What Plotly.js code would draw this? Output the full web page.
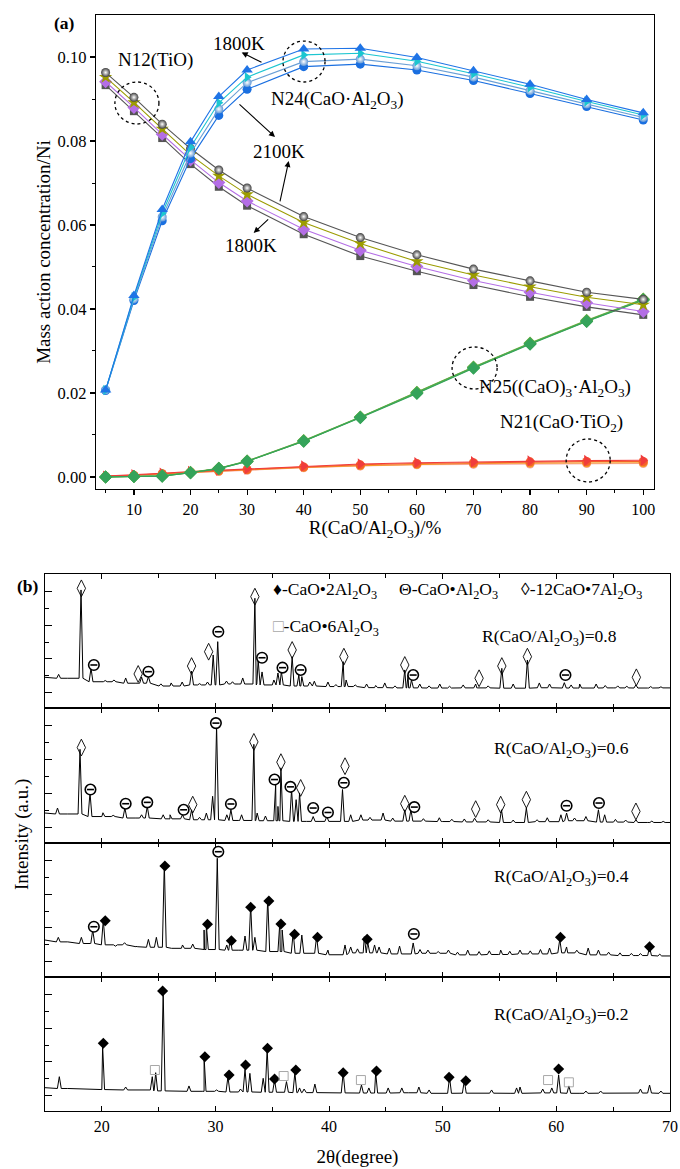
<!DOCTYPE html>
<html><head><meta charset="utf-8">
<script src="https://cdn.plot.ly/plotly-3.0.1.min.js"></script>
<style>html,body{margin:0;padding:0;background:#fff}#chart{width:680px;height:1169px}</style>
</head><body><div id="chart"></div>
<script>
// ---------- Panel (a) data ----------
const ratio = [5,10,15,20,25,30,40,50,60,70,80,90,100];
const temps = ['1800K','1900K','2000K','2100K'];
// N12 (TiO)
const n12_1800 = [0.0933,0.0871,0.0807,0.0745,0.0691,0.0646,0.0578,0.0526,0.0490,0.0457,0.0429,0.0405,0.0386];
const n12_1900 = [0.0941,0.0880,0.0816,0.0755,0.0701,0.0657,0.0590,0.0540,0.0501,0.0468,0.0440,0.0415,0.0394];
const n12_2000 = [0.0952,0.0892,0.0829,0.0767,0.0717,0.0673,0.0606,0.0556,0.0513,0.0481,0.0453,0.0428,0.0410];
const n12_2100 = [0.0963,0.0904,0.0840,0.0782,0.0731,0.0688,0.0620,0.0570,0.0529,0.0495,0.0467,0.0440,0.0423];
// N24 (CaO·Al2O3)
const n24_1800 = [0.0207,0.0432,0.0637,0.0798,0.0906,0.0969,0.1019,0.1021,0.0999,0.0967,0.0935,0.0899,0.0867];
const n24_1900 = [0.0207,0.0428,0.0628,0.0785,0.0891,0.0952,0.1005,0.1009,0.0990,0.0960,0.0928,0.0894,0.0862];
const n24_2000 = [0.0207,0.0424,0.0619,0.0771,0.0876,0.0939,0.0989,0.0995,0.0979,0.0952,0.0920,0.0888,0.0856];
const n24_2100 = [0.0206,0.0420,0.0610,0.0758,0.0861,0.0923,0.0977,0.0983,0.0969,0.0944,0.0913,0.0882,0.0850];
// N25 ((CaO)3·Al2O3)
const n25_1800 = [0.0000,0.0001,0.0002,0.0010,0.0020,0.0037,0.0085,0.0141,0.0199,0.0259,0.0316,0.0370,0.0421];
const n25_1900 = [0.0000,0.0001,0.0002,0.0010,0.0020,0.0037,0.0085,0.0142,0.0200,0.0260,0.0317,0.0371,0.0422];
const n25_2000 = [0.0000,0.0001,0.0003,0.0010,0.0021,0.0038,0.0086,0.0142,0.0201,0.0261,0.0318,0.0372,0.0423];
const n25_2100 = [0.0000,0.0001,0.0003,0.0011,0.0021,0.0038,0.0087,0.0143,0.0202,0.0262,0.0319,0.0373,0.0424];
// N21 (CaO·TiO2)
const n21_1800 = [0.0002,0.0005,0.0009,0.0013,0.0016,0.0019,0.0026,0.0031,0.0034,0.0036,0.0038,0.0039,0.0040];
const n21_1900 = [0.0002,0.0004,0.0008,0.0012,0.0015,0.0018,0.0024,0.0029,0.0032,0.0034,0.0036,0.0037,0.0037];
const n21_2000 = [0.0001,0.0004,0.0007,0.0011,0.0014,0.0017,0.0023,0.0027,0.0030,0.0032,0.0033,0.0034,0.0034];
const n21_2100 = [0.0001,0.0003,0.0007,0.0010,0.0013,0.0016,0.0022,0.0026,0.0029,0.0030,0.0031,0.0032,0.0032];

// ---------- Panel (b) XRD data ----------
// R = 0.8
const r08_baseX = [15,17,20,23,26,29,32,35,38,41,44,47,50,53,56,59,62,65,68,70];
const r08_baseY = [0.229,0.222,0.196,0.185,0.164,0.172,0.179,0.172,0.164,0.160,0.152,0.150,0.149,0.150,0.148,0.151,0.149,0.150,0.149,0.150];
const r08_peakX = [16.2,18.17,19.05,20.3,21.07,22.1,23.5,24.1,25.2,26.1,27.07,27.9,28.6,29.3,29.8,30.2,30.97,31.5,32.4,33.47,33.76,34.1,35.14,35.5,35.8,36.75,37.34,37.6,38.3,38.7,39.9,40.6,41.24,41.5,42.3,43.3,44.1,44.9,45.8,46.66,46.95,47.25,47.98,48.8,49.74,50.6,51.8,52.9,54.0,55.2,56.2,57.45,58.5,59.4,60.7,61.3,62.05,63.5,64.3,65.4,66.2,67.0,68.3,69.2];
const r08_peakY = [0.251,0.881,0.296,0.205,0.209,0.224,0.231,0.234,0.180,0.187,0.194,0.276,0.182,0.194,0.396,0.495,0.201,0.196,0.224,0.819,0.358,0.269,0.209,0.261,0.271,0.383,0.246,0.234,0.194,0.200,0.194,0.175,0.346,0.209,0.172,0.179,0.168,0.187,0.165,0.284,0.246,0.209,0.179,0.165,0.179,0.162,0.172,0.179,0.165,0.296,0.179,0.358,0.187,0.179,0.189,0.172,0.179,0.179,0.168,0.165,0.162,0.172,0.160,0.158];
const r08_c12a7X = [18.2,23.2,27.9,29.4,33.47,36.75,41.3,46.66,53.2,55.2,57.45,67.04];
const r08_c12a7Y = [0.893,0.254,0.313,0.420,0.831,0.433,0.383,0.321,0.222,0.313,0.383,0.229];
const r08_caX = [19.3,24.1,30.25,34.1,35.9,37.5,47.4,60.8];
const r08_caY = [0.321,0.271,0.569,0.375,0.301,0.284,0.246,0.246];
// R = 0.6
const r06_baseX = [15,17,20,23,26,29,32,35,38,41,44,47,50,53,56,59,62,65,68,70];
const r06_baseY = [0.222,0.215,0.196,0.185,0.179,0.172,0.167,0.165,0.160,0.160,0.170,0.162,0.159,0.156,0.152,0.158,0.165,0.155,0.152,0.152];
const r06_peakX = [16.1,18.08,18.96,20.1,21.0,22.03,23.5,24.0,25.4,26.0,27.1,27.9,28.6,29.2,29.75,30.1,31.0,31.36,32.3,33.38,33.67,34.4,35.3,35.5,35.76,36.7,37.1,37.4,38.6,39.8,41.18,41.9,42.8,43.6,44.75,45.6,46.66,47.2,48.3,49.7,50.8,51.9,52.8,54.0,55.17,56.2,57.36,58.3,59.2,60.4,60.9,61.6,62.6,63.7,64.25,65.2,66.1,67.0,68.4,69.4];
const r06_peakY = [0.259,0.694,0.372,0.224,0.205,0.259,0.209,0.271,0.209,0.209,0.209,0.246,0.190,0.222,0.346,0.868,0.209,0.246,0.209,0.731,0.222,0.200,0.433,0.271,0.557,0.396,0.321,0.371,0.196,0.196,0.396,0.209,0.209,0.190,0.222,0.185,0.246,0.246,0.180,0.187,0.176,0.178,0.184,0.172,0.246,0.170,0.259,0.172,0.187,0.209,0.222,0.185,0.196,0.246,0.209,0.175,0.170,0.172,0.162,0.160];
const r06_c12a7X = [18.2,28.0,33.38,35.76,37.5,41.4,46.66,52.9,55.1,57.36,67.0];
const r06_c12a7Y = [0.707,0.284,0.749,0.599,0.408,0.569,0.291,0.251,0.284,0.321,0.234];
const r06_caX = [19.0,22.1,24.0,27.2,30.04,31.36,35.2,36.6,38.6,39.9,41.3,47.5,60.9,63.75];
const r06_caY = [0.396,0.291,0.301,0.246,0.888,0.289,0.470,0.416,0.259,0.226,0.446,0.266,0.276,0.296];
// R = 0.4
const r04_baseX = [15,17,19,21,23,25,27,29,32,35,38,40,43,46,49,52,55,58,61,64,67,70];
const r04_baseY = [0.276,0.262,0.250,0.240,0.226,0.222,0.214,0.205,0.200,0.190,0.177,0.166,0.180,0.172,0.177,0.165,0.168,0.172,0.180,0.165,0.160,0.157];
const r04_peakX = [16.17,18.2,19.2,20.13,21.2,22.0,23.0,24.1,24.8,25.5,26.3,27.1,28.0,29.0,29.2,30.16,31.0,31.3,32.6,33.1,33.47,34.6,35.67,35.87,36.84,37.6,38.9,39.9,41.4,41.9,42.5,43.1,43.4,44.0,44.4,45.3,46.2,47.4,48.0,48.7,49.6,50.5,51.3,52.2,53.2,54.1,55.1,55.9,56.8,57.7,58.6,59.4,60.3,60.9,61.8,62.8,63.7,64.6,65.6,66.6,67.4,68.2,69.1];
const r04_peakY = [0.296,0.296,0.351,0.425,0.230,0.256,0.228,0.281,0.296,0.849,0.215,0.239,0.246,0.351,0.388,0.886,0.239,0.289,0.306,0.537,0.296,0.587,0.413,0.351,0.331,0.313,0.301,0.201,0.239,0.224,0.210,0.301,0.261,0.239,0.224,0.216,0.231,0.254,0.205,0.201,0.190,0.201,0.185,0.201,0.190,0.195,0.201,0.192,0.201,0.195,0.205,0.216,0.281,0.224,0.200,0.216,0.201,0.185,0.180,0.176,0.175,0.222,0.170];
const r04_caX = [19.3,30.25,47.46];
const r04_caY = [0.375,0.935,0.321];
const r04_ca2X = [20.3,25.55,29.3,31.4,33.1,34.7,35.76,36.96,38.98,43.35,60.36,68.2];
const r04_ca2Y = [0.420,0.828,0.393,0.271,0.520,0.567,0.396,0.319,0.296,0.281,0.296,0.226];
// R = 0.2
const r02_baseX = [15,17,20,23,26,29,32,35,38,41,44,47,50,53,56,59,62,65,68,70];
const r02_baseY = [0.174,0.168,0.160,0.157,0.150,0.147,0.142,0.140,0.137,0.135,0.134,0.136,0.132,0.133,0.132,0.135,0.132,0.133,0.134,0.132];
const r02_peakX = [16.26,20.07,22.1,24.44,24.74,25.4,27.67,29.0,30.1,31.1,32.2,32.6,33.03,34.2,34.55,35.2,36.25,36.99,37.4,37.8,38.75,41.24,42.85,43.5,44.1,45.2,46.4,47.9,48.8,50.6,51.9,54.3,56.5,56.8,58.8,59.6,60.2,61.1,62.6,63.9,67.4,68.2,69.2];
const r02_peakY = [0.256,0.485,0.179,0.256,0.286,0.890,0.187,0.401,0.157,0.256,0.164,0.311,0.281,0.244,0.460,0.231,0.219,0.286,0.172,0.164,0.201,0.286,0.194,0.172,0.286,0.172,0.172,0.179,0.157,0.251,0.226,0.157,0.172,0.179,0.164,0.172,0.269,0.187,0.149,0.149,0.164,0.194,0.149];
const r02_ca2X = [20.13,25.35,29.07,31.2,32.65,34.58,35.2,37.07,41.24,44.17,50.56,52.03,60.2];
const r02_ca2Y = [0.505,0.896,0.405,0.269,0.343,0.468,0.239,0.306,0.286,0.299,0.251,0.226,0.313];
const r02_ca6X = [24.67,36.0,42.8,59.27,61.1];
const r02_ca6Y = [0.306,0.261,0.231,0.231,0.214];

// ---------- helpers ----------
const FONT = 'Liberation Serif, Times New Roman, serif';
const W = 680, H = 1169;
const px = v => v / W;
const py = v => 1 - v / H;
const HW = 0.17;

function spectrum(bx, by, pkx, pky) {
  const pts = bx.map((x, i) => [x, by[i]]);
  pkx.forEach((x, i) => {
    let j = 0, d = 1e9;
    bx.forEach((b, k) => { const dd = Math.abs(b - x); if (dd < d) { d = dd; j = k; } });
    const b = by[j];
    pts.push([x - HW, b], [x, pky[i]], [x + HW, b]);
  });
  pts.sort((a, b) => a[0] - b[0]);
  return { x: pts.map(p => p[0]), y: pts.map(p => p[1]) };
}

const traces = [];
function series(y, name, color, sym, size, grad, lineColor) {
  const m = { symbol: sym, size: size, color: color, line: { width: 0 } };
  if (grad) m.gradient = { type: 'radial', color: '#ffffff' };
  traces.push({ x: ratio, y: y, name: name, type: 'scatter', mode: 'lines+markers',
    line: { color: lineColor || color, width: 1.1 }, marker: m, xaxis: 'x', yaxis: 'y', showlegend: false });
}
// N21
series(n21_2100, 'N21 2100K', '#f6a8a8', 'circle', 9, false, '#f6a8a8');
series(n21_2000, 'N21 2000K', '#f59a23', 'circle', 9, false);
series(n21_1900, 'N21 1900K', '#f5602a', 'circle', 9, false);
series(n21_1800, 'N21 1800K', '#f03c3c', 'triangle-right', 10, false);
// N25
series(n25_2100, 'N25 2100K', '#7cb342', 'diamond', 10, false);
series(n25_2000, 'N25 2000K', '#5aa84a', 'diamond', 10, false);
series(n25_1900, 'N25 1900K', '#4caf50', 'diamond', 10, false);
series(n25_1800, 'N25 1800K', '#35a35a', 'diamond', 10, false);
// N12
series(n12_1800, 'N12 1800K', '#555555', 'square', 8, false);
series(n12_1900, 'N12 1900K', '#b46ee6', 'diamond', 10, false);
series(n12_2000, 'N12 2000K', '#9c9c00', 'star', 10, false);
series(n12_2100, 'N12 2100K', '#3f3f3f', 'circle', 9, true, '#555555');
// N24
series(n24_2100, 'N24 2100K', '#1a6fe0', 'circle', 9, false);
series(n24_2000, 'N24 2000K', '#5b95d6', 'circle', 9, true, '#6a9fd5');
series(n24_1900, 'N24 1900K', '#1cc6d0', 'triangle-right', 9, false);
series(n24_1800, 'N24 1800K', '#1f74e6', 'triangle-up', 10, false);

// XRD subpanels
const panels = [
  { k: 2, bx: r08_baseX, by: r08_baseY, px: r08_peakX, py: r08_peakY,
    marks: [['c12a7', r08_c12a7X, r08_c12a7Y], ['ca', r08_caX, r08_caY]] },
  { k: 3, bx: r06_baseX, by: r06_baseY, px: r06_peakX, py: r06_peakY,
    marks: [['c12a7', r06_c12a7X, r06_c12a7Y], ['ca', r06_caX, r06_caY]] },
  { k: 4, bx: r04_baseX, by: r04_baseY, px: r04_peakX, py: r04_peakY,
    marks: [['ca', r04_caX, r04_caY], ['ca2', r04_ca2X, r04_ca2Y]] },
  { k: 5, bx: r02_baseX, by: r02_baseY, px: r02_peakX, py: r02_peakY,
    marks: [['ca2', r02_ca2X, r02_ca2Y], ['ca6', r02_ca6X, r02_ca6Y]] }
];
panels.forEach(p => {
  const s = spectrum(p.bx, p.by, p.px, p.py);
  const xa = 'x' + p.k, ya = 'y' + p.k;
  traces.push({ x: s.x, y: s.y, type: 'scatter', mode: 'lines', line: { color: '#000', width: 1 },
    xaxis: xa, yaxis: ya, showlegend: false, hoverinfo: 'skip' });
  p.marks.forEach(m => {
    const [kind, mx, my] = m;
    if (kind === 'c12a7') {
      traces.push({ x: mx, y: my, type: 'scatter', mode: 'markers', xaxis: xa, yaxis: ya, showlegend: false,
        marker: { symbol: 'diamond-tall-open', size: 12, color: '#000', line: { width: 0.9, color: '#000' } } });
    } else if (kind === 'ca') {
      traces.push({ x: mx, y: my, type: 'scatter', mode: 'markers', xaxis: xa, yaxis: ya, showlegend: false,
        marker: { symbol: 'circle', size: 10.5, color: '#fff', line: { width: 1.6, color: '#000' } } });
      traces.push({ x: mx, y: my, type: 'scatter', mode: 'markers', xaxis: xa, yaxis: ya, showlegend: false,
        marker: { symbol: 'line-ew-open', size: 5, color: '#000', line: { width: 1.6, color: '#000' } } });
    } else if (kind === 'ca2') {
      traces.push({ x: mx, y: my, type: 'scatter', mode: 'markers', xaxis: xa, yaxis: ya, showlegend: false,
        marker: { symbol: 'diamond', size: 8.5, color: '#000', line: { width: 0 } } });
    } else if (kind === 'ca6') {
      traces.push({ x: mx, y: my, type: 'scatter', mode: 'markers', xaxis: xa, yaxis: ya, showlegend: false,
        marker: { symbol: 'square-open', size: 9, color: '#a8a8a8', line: { width: 1, color: '#a8a8a8' } } });
    }
  });
});

// ---------- layout ----------
const axLine = { showline: true, linecolor: '#000', linewidth: 1.3, zeroline: false, showgrid: false };
const layout = {
  width: W, height: H, margin: { l: 0, r: 0, t: 0, b: 0 },
  paper_bgcolor: '#fff', plot_bgcolor: '#fff',
  font: { family: FONT, size: 16, color: '#000' },
  showlegend: false,
  xaxis: Object.assign({}, axLine, {
    domain: [px(96), px(654)], anchor: 'y', range: [3.3, 101.9],
    tickmode: 'array', tickvals: [10,20,30,40,50,60,70,80,90,100],
    ticks: 'outside', ticklen: 5, tickwidth: 1.2, tickcolor: '#000', mirror: true,
    minor: { tickvals: [5,15,25,35,45,55,65,75,85,95], ticks: 'outside', ticklen: 3, tickcolor: '#000', tickwidth: 1 },
    tickfont: { size: 16 },
    title: { text: 'R(CaO/Al<sub>2</sub>O<sub>3</sub>)/%', font: { size: 19 }, standoff: 4 }
  }),
  yaxis: Object.assign({}, axLine, {
    domain: [py(489), py(15)], anchor: 'x', range: [-0.00286, 0.110],
    tickmode: 'array', tickvals: [0, 0.02, 0.04, 0.06, 0.08, 0.10],
    ticktext: ['0.00','0.02','0.04','0.06','0.08','0.10'],
    ticks: 'outside', ticklen: 5, tickwidth: 1.2, tickcolor: '#000', mirror: true,
    minor: { tickvals: [0.01, 0.03, 0.05, 0.07, 0.09], ticks: 'outside', ticklen: 3, tickcolor: '#000', tickwidth: 1 },
    tickfont: { size: 16.5 },
    title: { text: 'Mass action concentration/Ni', font: { size: 19 }, standoff: 2 }
  }),
  annotations: [], shapes: []
};
const bTops = [574, 708, 843, 977], bBots = [708, 843, 977, 1111];
for (let k = 2; k <= 5; k++) {
  const i = k - 2;
  layout['xaxis' + k] = Object.assign({}, axLine, {
    domain: [px(45), px(670)], anchor: 'y' + k, range: [15, 70],
    tickmode: 'array', tickvals: [20,30,40,50,60,70], showticklabels: k === 5,
    ticks: 'inside', ticklen: 5, tickwidth: 1.1, tickcolor: '#000', mirror: 'ticks',
    minor: { tickvals: [25,35,45,55,65], ticks: 'inside', ticklen: 4, tickcolor: '#000', tickwidth: 1 },
    tickfont: { size: 16 }
  });
  if (k === 5) layout['xaxis' + k].title = { text: '2θ(degree)', font: { size: 19 }, standoff: 16 };
  layout['yaxis' + k] = Object.assign({}, axLine, {
    domain: [py(bBots[i]), py(bTops[i])], anchor: 'x' + k, range: [0, 1],
    tickmode: 'array', tickvals: [0.117, 0.367, 0.617, 0.867], showticklabels: false,
    ticks: 'inside', ticklen: 7, tickwidth: 1, tickcolor: '#000', mirror: true,
    minor: { tickvals: [0.242, 0.492, 0.742], ticks: 'inside', ticklen: 4, tickcolor: '#000', tickwidth: 1 }
  });
}

// annotations panel (a)
const A = layout.annotations;
function ta(text, x, y, size, extra) {
  A.push(Object.assign({ text: text, x: x, y: y, xref: 'x', yref: 'y', showarrow: false,
    xanchor: 'center', yanchor: 'middle',
    font: { family: FONT, size: size || 19, color: '#000' } }, extra || {}));
}
ta('N12(TiO)', 13.9, 0.0993);
ta('1800K', 28.65, 0.1033);
ta('N24(CaO·Al<sub>2</sub>O<sub>3</sub>)', 45.98, 0.0898);
ta('2100K', 35.55, 0.0774);
ta('1800K', 30.69, 0.0552);
ta('N25((CaO)<sub>3</sub>·Al<sub>2</sub>O<sub>3</sub>)', 84.4, 0.0212);
ta('N21(CaO·TiO<sub>2</sub>)', 85.6, 0.01286);
function arrow(tx, ty, hx, hy) {
  A.push({ x: hx, y: hy, ax: tx, ay: ty, xref: 'x', yref: 'y', axref: 'x', ayref: 'y', text: '',
    showarrow: true, arrowhead: 2, arrowsize: 1.1, arrowwidth: 1.1, arrowcolor: '#000' });
}
arrow(32.81, 0.09857, 29.04, 0.1011);
arrow(28.39, 0.08905, 34.93, 0.08095);
arrow(35.76, 0.06524, 37.35, 0.07524);
arrow(33.99, 0.06167, 31.16, 0.05810);
function circ(x0, x1, y0, y1) {
  layout.shapes.push({ type: 'circle', xref: 'x', yref: 'y', x0: x0, x1: x1, y0: y0, y1: y1,
    line: { color: '#000', width: 1.3, dash: 'dot' } });
}
circ(6.64, 14.42, 0.08405, 0.09405);
circ(36.34, 43.77, 0.09405, 0.1038);
circ(66.22, 74.18, 0.02095, 0.03095);
circ(86.38, 94.16, -0.0012, 0.00905);
function pa(text, x, y, size, extra) {
  A.push(Object.assign({ text: text, x: px(x), y: py(y), xref: 'paper', yref: 'paper', showarrow: false,
    xanchor: 'center', yanchor: 'middle',
    font: { family: FONT, size: size, color: '#000' } }, extra || {}));
}
pa('<b>(a)</b>', 64, 23, 17.5);
pa('<b>(b)</b>', 28, 586, 17.5);
pa('Intensity (a.u.)', 22, 835, 19, { textangle: -90 });
pa('♦-CaO•2Al<sub>2</sub>O<sub>3</sub>', 271, 590, 17.5, { xanchor: 'left' });
pa('Θ-CaO•Al<sub>2</sub>O<sub>3</sub>', 397, 590, 17.5, { xanchor: 'left' });
pa('◊-12CaO•7Al<sub>2</sub>O<sub>3</sub>', 519, 590, 17.5, { xanchor: 'left' });
pa('<span style="color:#a8a8a8">□</span>-CaO•6Al<sub>2</sub>O<sub>3</sub>', 271, 627, 17.5, { xanchor: 'left' });
pa('R(CaO/Al<sub>2</sub>O<sub>3</sub>)=0.8', 480, 637, 17.5, { xanchor: 'left' });
pa('R(CaO/Al<sub>2</sub>O<sub>3</sub>)=0.6', 492, 749, 17.5, { xanchor: 'left' });
pa('R(CaO/Al<sub>2</sub>O<sub>3</sub>)=0.4', 492, 877, 17.5, { xanchor: 'left' });
pa('R(CaO/Al<sub>2</sub>O<sub>3</sub>)=0.2', 492, 1015, 17.5, { xanchor: 'left' });

Plotly.newPlot('chart', traces, layout, { staticPlot: true, displayModeBar: false });
</script>
</body></html>
